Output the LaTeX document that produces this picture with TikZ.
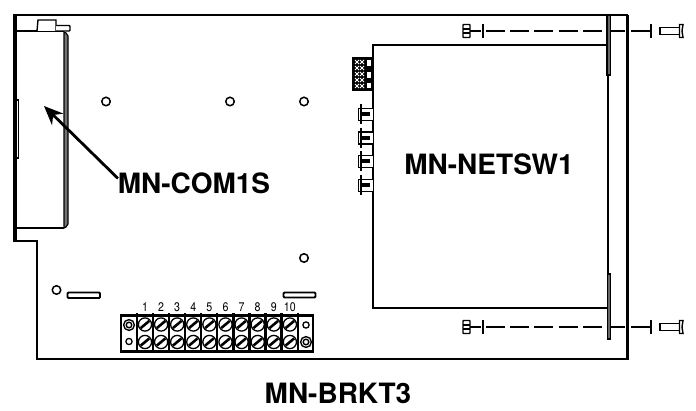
\documentclass[tikz,border=0pt]{standalone}
\usepackage{fontspec}
\setmainfont{TeX Gyre Heros}
\usetikzlibrary{arrows.meta}
\tikzset{
  x=1pt,y=-1pt,
  thinl/.style={line width=1.4pt,black},
  med/.style={line width=2pt,black},
  hole/.style={draw=black,line width=1.5pt,fill=white,circle,minimum size=8.5pt,inner sep=0pt},
  lab/.style={font=\bfseries\fontsize{28}{30}\selectfont,inner sep=0pt,text=black},
  num/.style={font=\fontsize{12.5}{13}\selectfont,inner sep=0pt,text=black,xscale=.85},
  slot/.style={draw=black,line width=1.9pt,fill=white,rounded corners=1pt},
  plate/.style={draw=black,line width=1.2pt,fill=black!60},
}
\begin{document}
\begin{tikzpicture}
\useasboundingbox (0,0) rectangle (696,411);
% bracket outline
\draw[med,line join=miter] (13.5,15.5) -- (627,15.5) -- (627,359.5) -- (36.5,359.5) -- (36.5,241.5) -- (13.5,241.5) -- cycle;
\draw[line width=3.6pt] (15,15.5) -- (15,241);
\draw[line width=2.8pt] (627.5,15) -- (627.5,360);
% COM module
\draw[thinl] (16,31) -- (64,31);
\draw[thinl] (16,228) -- (64,228);
\draw[line width=1.2pt,fill=black!55] (64,32) -- (66,33) -- (68,36) -- (68,224) -- (66,227) -- (64,228) -- cycle;
\draw[thinl,fill=white] (37,31) -- (38,20) -- (56,20) -- (56,31);
\draw[thinl,fill=white,rounded corners=.8pt] (56,25.5) -- (70,25.5) -- (70,31) -- (56,31);
\draw[thinl,fill=white] (16.5,100) rectangle (18.5,158);
% holes
\node[hole] (h1) at (106,101.5) {};
\node[hole] (h2) at (230,101.5) {};
\node[hole] (h3) at (304,101.5) {};
\node[hole] (h4) at (304,258) {};
\node[hole] (h5) at (56.5,290) {};
% slots
\draw[slot] (67.5,292.5) rectangle (100,298);
\draw[slot] (283.5,292.5) rectangle (315.5,297.5);
% terminal block
\draw[line width=2.2pt,fill=white] (121,315.5) rectangle (313,351.5);
\foreach \i/\n in {0/1,1/2,2/3,3/4,4/5,5/6,6/7,7/8,8/9,9/10}{
  \pgfmathsetmacro{\cx}{145+16.1*\i}
  \pgfmathsetmacro{\dx}{136.7+16.1*\i}
  \draw[line width=2.4pt] (\dx,313.5) -- (\dx,353.5);
  \node[num] (n\n) at (\cx,307) {\n};
  \foreach \cy in {324.5,342}{
    \draw[line width=1.3pt] (\cx,\cy) circle (6.6pt);
    \draw[line width=2.6pt] ({\cx-4.3},{\cy+3.6}) -- ({\cx+4.3},{\cy-3.6});
  }
}
\draw[line width=2.4pt] (297.7,313.5) -- (297.7,353.5);
\draw[line width=1.4pt] (129,325) circle (5.4pt);
\draw[line width=1.4pt] (129,325) circle (2.8pt);
\draw[line width=1.3pt] (129,341.5) circle (3.1pt);
\draw[line width=1.3pt] (306,325) circle (3.1pt);
\draw[line width=1.4pt] (306,342) circle (5.4pt);
\draw[line width=1.4pt] (306,342) circle (2.8pt);
% switch
\draw[med] (607,45) -- (373,45) -- (373,308.5) -- (607,308.5);
\draw[thinl] (608,75) -- (608,274);
\draw[plate] (607,15) rectangle (610.5,75);
\draw[plate] (607.5,274) rectangle (610.5,339);
% connector
\fill[black] (352,57.5) rectangle (373,91);
\foreach \yy in {60,66,72,78,84}{
  \draw[white,line width=.9pt] (355,\yy) -- (359,{\yy+4}) (359,\yy) -- (355,{\yy+4});
  \draw[white,line width=.9pt] (360,\yy) -- (364,{\yy+4}) (364,\yy) -- (360,{\yy+4});
}
\fill[white] (366.5,60) rectangle (371,66);
\fill[white] (366.5,72) rectangle (371,78);
\fill[white] (366.5,83) rectangle (371,88);
% RJ tabs
\foreach \yy in {108.5,132,155.5,179.5}{
  \draw[line width=1.5pt,fill=white] (373,\yy) -- (358.5,\yy) -- (358.5,{\yy+12}) -- (373,{\yy+12});
  \draw[line width=2pt] (361,{\yy-4}) -- (361,{\yy+16});
  \fill[black] (361,{\yy+4}) rectangle (370,{\yy+8});
}
% screws
\foreach \yy/\b in {31/a,327/b}{
  \draw[line width=1.4pt,fill=white,rounded corners=.6pt] (463,{\yy-6.5}) rectangle (470,{\yy+6.5});
  \draw[line width=1.1pt] (463,{\yy-2}) -- (470,{\yy-2}) (463,{\yy+2}) -- (470,{\yy+2});
  \draw[line width=1.4pt] (470,\yy) -- (481,\yy);
  \draw[line width=1.9pt] (483,{\yy-7}) -- (483,{\yy+7});
  \draw[line width=1.4pt,dash pattern=on 19pt off 5.2pt] (486,\yy) -- (603,\yy);
  \draw[line width=1.4pt] (611,\yy) -- (625,\yy) (631,\yy) -- (650,\yy);
  \draw[line width=1.9pt] (651,{\yy-7}) -- (651,{\yy+7});
  \draw[line width=1.4pt,fill=white] (660,{\yy-3.3}) rectangle (680,{\yy+3.3});
  \draw[line width=1.4pt,fill=white] (679.5,{\yy-6.5}) -- (683,{\yy-6.5}) to[bend left=10] (682,\yy) to[bend left=10] (683,{\yy+6.5}) -- (679.5,{\yy+6.5}) -- cycle;
}
% labels
\node[lab] (net) at (489,164.5) {MN-NETSW1};
\node[lab] (com) at (194,183.5) {MN-COM1S};
\node[lab] (brk) at (338,393) {MN-BRKT3};
\coordinate (tip) at (44,106);
\coordinate (tail) at (118,178.5);
\draw[line width=2.8pt,-{Stealth[length=19pt,width=16pt]}] (tail) -- (tip);
\end{tikzpicture}
\end{document}
